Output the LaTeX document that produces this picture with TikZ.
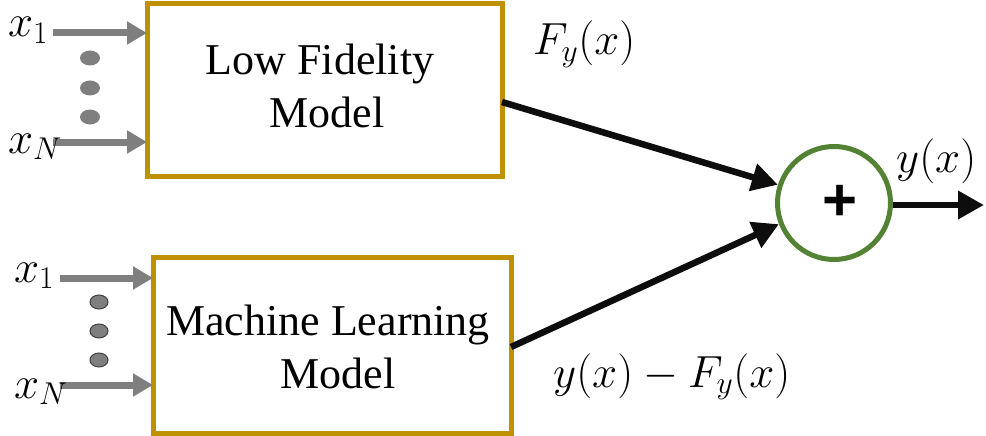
\RequirePackage{fix-cm}
\documentclass[tikz,border=0pt]{standalone}
\usepackage{fontspec}
\setmainfont{Liberation Serif}
\setsansfont{Liberation Sans}
\usetikzlibrary{arrows.meta}
\definecolor{boxgold}{RGB}{191,144,0}
\definecolor{sumgreen}{RGB}{84,130,53}
\definecolor{ingrey}{RGB}{127,127,127}
\definecolor{dotedge}{RGB}{64,64,64}
\definecolor{arrblack}{RGB}{13,13,13}
\tikzset{
  modelbox/.style={draw=boxgold, line width=5pt, inner sep=0pt, outer sep=0pt},
  sumnode/.style={circle, draw=sumgreen, line width=5pt, inner sep=0pt, minimum size=113pt},
  txt/.style={inner sep=0pt, anchor=base, font=\fontsize{44}{53}\selectfont},
  mathlbl/.style={inner sep=0pt, anchor=base west, font=\fontsize{45}{54}\selectfont},
  inarrow/.style={draw=ingrey, line width=7pt, -{Triangle[length=20pt,width=22pt]}},
  outarrow/.style={draw=arrblack, line width=6.5pt, -{Triangle[length=26pt,width=27pt]}}
}
\begin{document}
\begin{tikzpicture}[x=1pt,y=-1pt]
\useasboundingbox (0,0) rectangle (986,436);
% boxes
\node[modelbox, minimum width=355pt, minimum height=172pt] (top) at (324.5,90) {};
\node[modelbox, minimum width=358pt, minimum height=176pt] (bot) at (332,345) {};
\node[txt] (t1) at (320,75) {Low Fidelity};
\node[txt] (t2) at (327,128) {Model};
\node[txt] (b1) at (328,335) {Machine Learning};
\node[txt] (b2) at (338,388) {Model};
% sum node
\node[sumnode] (sum) at (834,203) {};
\node[inner sep=0pt, font=\fontsize{60}{60}\sffamily\bfseries] (plus) at (840,203) {+};
% input arrows
\coordinate (ta) at (53,33);
\coordinate (tb) at (53,142);
\coordinate (ba) at (60,278);
\coordinate (bb) at (60,385);
\draw[inarrow] (ta) -- (ta -| top.west);
\draw[inarrow] (tb) -- (tb -| top.west);
\draw[inarrow] (ba) -- (ba -| bot.west);
\draw[inarrow] (bb) -- (bb -| bot.west);
\fill[ingrey] (90,58) ellipse (10pt and 7.5pt);
\fill[ingrey] (90,88) ellipse (10pt and 7.5pt);
\fill[ingrey] (90,117) ellipse (10pt and 7.5pt);
\filldraw[fill=ingrey, draw=dotedge, line width=1pt] (99,302) ellipse (9pt and 7pt);
\filldraw[fill=ingrey, draw=dotedge, line width=1pt] (99,331) ellipse (9pt and 7pt);
\filldraw[fill=ingrey, draw=dotedge, line width=1pt] (99,360) ellipse (9pt and 7pt);
% labels
\node[mathlbl] (x1t) at (8,37) {$x_1$};
\node[mathlbl] (xnt) at (8,153) {$x_N$};
\node[mathlbl] (x1b) at (14,282) {$x_1$};
\node[mathlbl] (xnb) at (14,398) {$x_N$};
\node[mathlbl] (fy) at (533,55) {$F_y(x)$};
\node[mathlbl] (yx) at (896,172) {$y(x)$};
\node[mathlbl] (diff) at (553,387) {$y(x)-F_y(x)$};
% connectors
\draw[outarrow] ([yshift=-12pt]top.east) -- (sum.162);
\draw[outarrow] ([yshift=-2pt]bot.east) -- (sum.201);
\coordinate (out) at (984,205);
\draw[outarrow] (sum.east |- out) -- (out);
\end{tikzpicture}
\end{document}
